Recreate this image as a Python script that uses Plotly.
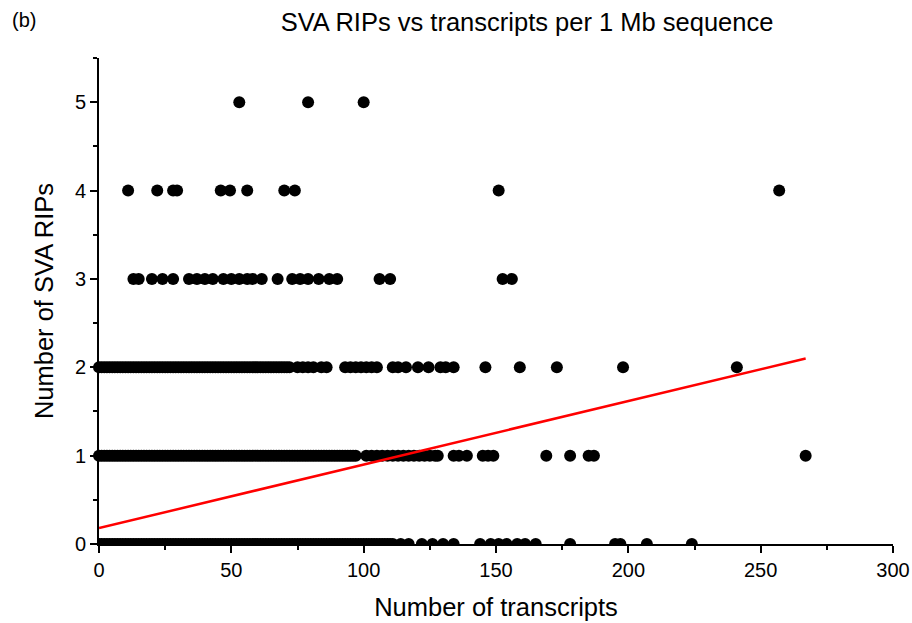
import plotly.graph_objects as go

# ---- data ----
row0_x = [0, 1, 2, 3, 4, 5, 6, 7, 8, 9, 10, 11, 12, 13, 14, 15, 16, 17, 18, 19, 20, 21, 22, 23, 24, 25,
          26, 27, 28, 29, 30, 31, 32, 33, 34, 35, 36, 37, 38, 39, 40, 41, 42, 43, 44, 45, 46, 47, 48, 49,
          50, 51, 52, 53, 54, 55, 56, 57, 58, 59, 60, 61, 62, 63, 64, 65, 66, 67, 68, 69, 70, 71, 72, 73,
          74, 75, 76, 77, 78, 79, 80, 81, 82, 83, 84, 85, 86, 87, 88, 89, 90, 91, 92, 93, 94, 95, 96, 97,
          98, 99, 100, 101, 102, 103, 104, 105, 106, 107, 108, 109, 110, 111,
          114, 117, 122, 126, 130, 134, 144, 148, 151, 154, 158, 161, 165, 178, 195, 197, 207, 224]
row1_x = [0, 1, 2, 3, 4, 5, 6, 7, 8, 9, 10, 11, 12, 13, 14, 15, 16, 17, 18, 19, 20, 21, 22, 23, 24, 25,
          26, 27, 28, 29, 30, 31, 32, 33, 34, 35, 36, 37, 38, 39, 40, 41, 42, 43, 44, 45, 46, 47, 48, 49,
          50, 51, 52, 53, 54, 55, 56, 57, 58, 59, 60, 61, 62, 63, 64, 65, 66, 67, 68, 69, 70, 71, 72, 73,
          74, 75, 76, 77, 78, 79, 80, 81, 82, 83, 84, 85, 86, 87, 88, 89, 90, 91, 92, 93, 94, 95, 96, 97,
          101, 103, 105, 107, 109, 111, 113, 115, 117, 119, 121, 123, 125, 127, 128,
          134, 136, 139, 145, 147, 149, 169, 178, 185, 187, 267]
row2_x = [0, 1, 2, 3, 4, 5, 6, 7, 8, 9, 10, 11, 12, 13, 14, 15, 16, 17, 18, 19, 20, 21, 22, 23, 24, 25,
          26, 27, 28, 29, 30, 31, 32, 33, 34, 35, 36, 37, 38, 39, 40, 41, 42, 43, 44, 45, 46, 47, 48, 49,
          50, 51, 52, 53, 54, 55, 56, 57, 58, 59, 60, 61, 62, 63, 64, 65, 66, 67, 68, 69, 70, 71, 72,
          75, 77, 79, 81, 84, 86, 93, 95, 97, 99, 101, 103, 105, 111, 113, 116, 120.5, 124.5,
          129, 131, 134, 146, 159, 173, 198, 241]
row3_x = [13, 15, 20, 24, 28, 34, 37, 40, 43, 47, 50, 53, 56, 58, 61.5, 67.5, 73, 76, 79, 83, 87, 90,
          106, 110, 152.5, 156]
row4_x = [11, 22, 28, 29.5, 46, 49.5, 56, 70, 74, 151, 257]
row5_x = [53, 79, 100]

fit_x = [0, 267]
fit_y = [0.18, 2.10]

x_ticks = [0, 50, 100, 150, 200, 250, 300]
y_ticks = [0, 1, 2, 3, 4, 5]

FONT = "Liberation Sans, Arial, sans-serif"

fig = go.Figure()

marker = dict(color="black", size=12, line=dict(width=0))

# zero row: clipped by x axis
fig.add_trace(go.Scatter(x=row0_x, y=[0] * len(row0_x), mode="markers", marker=marker,
                         cliponaxis=True, showlegend=False))
upper_x = row1_x + row2_x + row3_x + row4_x + row5_x
upper_y = ([1] * len(row1_x) + [2] * len(row2_x) + [3] * len(row3_x)
           + [4] * len(row4_x) + [5] * len(row5_x))
fig.add_trace(go.Scatter(x=upper_x, y=upper_y, mode="markers", marker=marker,
                         cliponaxis=False, showlegend=False))
fig.add_trace(go.Scatter(x=fit_x, y=fit_y, mode="lines", line=dict(color="#ff0000", width=2.5),
                         showlegend=False))

axis_common = dict(
    showline=True, linecolor="black", linewidth=2, mirror=False,
    showgrid=False, zeroline=False, automargin=False,
    ticks="outside", ticklen=7, tickwidth=2, tickcolor="black",
    tickfont=dict(family=FONT, size=20, color="black"),
)

fig.update_xaxes(
    range=[0, 300], tickvals=x_ticks, ticktext=[str(v) for v in x_ticks],
    minor=dict(ticks="outside", ticklen=4, tickwidth=1.5, tickcolor="black", dtick=25, tick0=0),
    title=dict(text="Number of transcripts", font=dict(family=FONT, size=25.5, color="black"), standoff=18),
    **axis_common,
)
fig.update_yaxes(
    range=[0, 5.5], tickvals=y_ticks, ticktext=[str(v) for v in y_ticks],
    minor=dict(ticks="outside", ticklen=4, tickwidth=1.5, tickcolor="black", dtick=0.5, tick0=0),
    title=dict(text="Number of SVA RIPs", font=dict(family=FONT, size=25.5, color="black"), standoff=14),
    **axis_common,
)

fig.update_layout(
    width=912, height=623, autosize=False,
    margin=dict(l=99, r=19, t=58, b=79, pad=0, autoexpand=False),
    paper_bgcolor="white", plot_bgcolor="white",
    title=dict(text="SVA RIPs vs transcripts per 1 Mb sequence",
               font=dict(family=FONT, size=25.5, color="black"),
               x=527 / 912, xanchor="center", y=1 - 22 / 623, yanchor="middle"),
    annotations=[dict(text="(b)", xref="paper", yref="paper", x=-89 / 794, y=1 + 38 / 486,
                      xanchor="left", yanchor="middle", showarrow=False,
                      font=dict(family=FONT, size=20, color="black"))],
)

fig.write_html("out.html")
